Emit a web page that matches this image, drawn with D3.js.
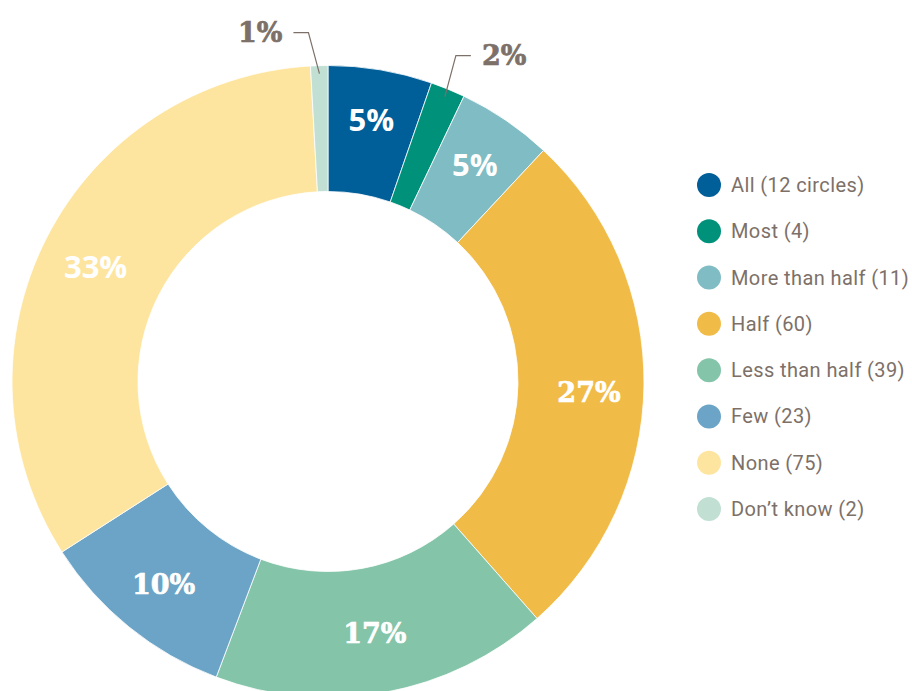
<!DOCTYPE html>
<html>
<head>
<meta charset="utf-8">
<script src="https://cdn.jsdelivr.net/npm/d3@7"></script>
<style>
  body { margin: 0; background: #fff; }
  svg { display: block; }
</style>
</head>
<body>
<div id="chart"></div>
<script>
// chart data
const categories = ["All", "Most", "More than half", "Half", "Less than half", "Few", "None", "Don't know"];
const counts = [12, 4, 11, 60, 39, 23, 75, 2];
const legendLabels = ["All (12 circles)", "Most (4)", "More than half (11)", "Half (60)",
                      "Less than half (39)", "Few (23)", "None (75)", "Don\u2019t know (2)"];
const colors = ["#005e99", "#00917b", "#80bcc3", "#f1bb48", "#84c4a9", "#6ba4c6", "#fee59f", "#c1e0d3"];

const width = 912, height = 691;
const cx = 328, cy = 381.5, outerR = 316, innerR = 190;
const textColor = "#7d7068";
// labels that are set in the sans face in the original
const sansLabels = new Set(["All", "More than half", "None"]);

const svg = d3.select("#chart").append("svg")
    .attr("width", width)
    .attr("height", height);

const total = d3.sum(counts);
const data = categories.map((c, i) => ({ cat: c, value: counts[i], color: colors[i], legend: legendLabels[i] }));

const pie = d3.pie().value(d => d.value).sort(null);
const arcs = pie(data);

const arc = d3.arc().innerRadius(innerR).outerRadius(outerR);
const labelArc = d3.arc().innerRadius(261).outerRadius(261);

const g = svg.append("g").attr("transform", `translate(${cx},${cy})`);

// slices
g.selectAll("path.slice")
  .data(arcs)
  .join("path")
    .attr("class", "slice")
    .attr("d", arc)
    .attr("fill", d => d.data.color)
    .attr("stroke", "#fff")
    .attr("stroke-width", 0.8);

const pct = d => Math.round(d.data.value / total * 100);
const midAngle = d => (d.startAngle + d.endAngle) / 2;
const isSans = d => sansLabels.has(d.data.cat);
const fs = d => isSans(d) ? 31 : 27;

// percent labels inside the ring (side labels sit a little lower)
const inside = arcs.filter(d => pct(d) >= 3);
g.selectAll("text.inlabel")
  .data(inside)
  .join("text")
    .attr("class", "inlabel")
    .attr("text-anchor", "middle")
    .attr("fill", "#fff")
    .attr("stroke", d => isSans(d) ? "none" : "#fff")
    .attr("stroke-width", 0.7)
    .attr("font-weight", 700)
    .attr("font-family", d => isSans(d) ? "'Open Sans', Roboto, sans-serif" : "'DejaVu Serif', serif")
    .attr("font-size", fs)
    .attr("x", d => labelArc.centroid(d)[0])
    .attr("y", d => labelArc.centroid(d)[1] - 5 + 12 * Math.sin(midAngle(d)) ** 2 + 0.36 * fs(d))
    .text(d => pct(d) + "%");

// small slices: label outside with a leader line
const outside = arcs.filter(d => pct(d) < 3);
const pointOn = (a, r) => [Math.sin(a) * r, -Math.cos(a) * r];
outside.forEach(d => {
  const mid = midAngle(d);
  const side = Math.sin(mid) >= 0 ? 1 : -1;
  const p0 = pointOn(mid, 308);
  const p1 = [p0[0] + side * 11, p0[1] - 41];
  const p2 = [p1[0] + side * 15, p1[1]];
  g.append("polyline")
    .attr("points", [p0, p1, p2].map(p => p.join(",")).join(" "))
    .attr("fill", "none")
    .attr("stroke", textColor)
    .attr("stroke-width", 1.2);
  g.append("text")
    .attr("x", p2[0] + side * 11)
    .attr("y", p2[1] + 0.36 * 27)
    .attr("text-anchor", side > 0 ? "start" : "end")
    .attr("fill", textColor)
    .attr("stroke", textColor)
    .attr("stroke-width", 0.7)
    .attr("font-weight", 700)
    .attr("font-family", "'DejaVu Serif', serif")
    .attr("font-size", 27)
    .text(pct(d) + "%");
});

// legend
const legendY = d3.scalePoint()
    .domain(categories)
    .range([185, 509]);

const legend = svg.append("g").attr("transform", "translate(709,0)");
const items = legend.selectAll("g")
  .data(data)
  .join("g")
    .attr("transform", d => `translate(0,${legendY(d.cat)})`);

items.append("circle")
    .attr("r", 12)
    .attr("fill", d => d.color);

items.append("text")
    .attr("x", 22)
    .attr("y", 7)
    .attr("fill", textColor)
    .attr("font-family", "Roboto, sans-serif")
    .attr("font-size", 20)
    .attr("letter-spacing", 0.4)
    .text(d => d.legend);
</script>
</body>
</html>
